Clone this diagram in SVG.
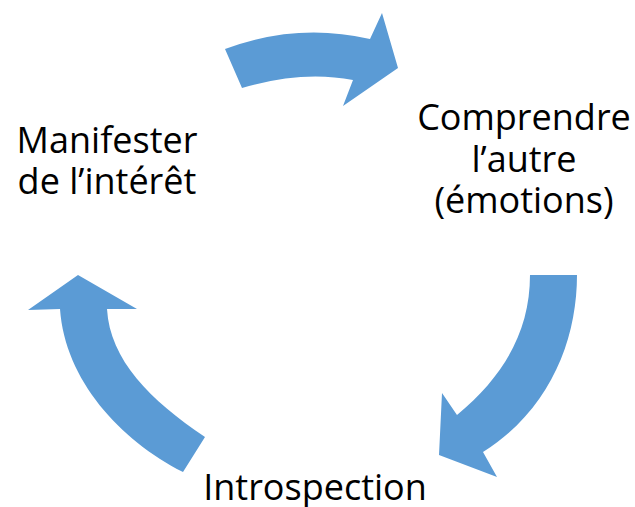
<svg xmlns="http://www.w3.org/2000/svg" width="635" height="507" viewBox="0 0 635 507">
  <style>
    .lbl { font-family: "Open Sans", "DejaVu Sans", sans-serif; font-size: 36px; fill: #000000; text-anchor: middle; }
    .arrow { fill: #5B9BD5; stroke: none; }
  </style>
  <rect width="635" height="507" fill="#ffffff"/>
  <g id="connectors">
    <path class="arrow" d="M225,49 Q297,22 370,39 L382,13 L398,68 L343,106 L353,80 Q302,70 242,88 Z"/>
    <path class="arrow" d="M530,275 L577,275 C577,340 550,410 483,452 L497,477 L439,455 L442,393 L457,415 C505,375 530,330 530,275 Z"/>
    <path class="arrow" d="M28,310 L78,275 L137,309 L107,309 C110,360 150,400 205,437 L183,472 C120,440 65,380 60,309 Z"/>
  </g>
  <g id="node-manifester">
    <text class="lbl" x="107" y="153">Manifester</text>
    <text class="lbl" x="107" y="194">de l’intérêt</text>
  </g>
  <g id="node-comprendre">
    <text class="lbl" x="524" y="130">Comprendre</text>
    <text class="lbl" x="524" y="172">l’autre</text>
    <text class="lbl" x="524" y="213">(émotions)</text>
  </g>
  <g id="node-introspection">
    <text class="lbl" x="315" y="500">Introspection</text>
  </g>
</svg>
